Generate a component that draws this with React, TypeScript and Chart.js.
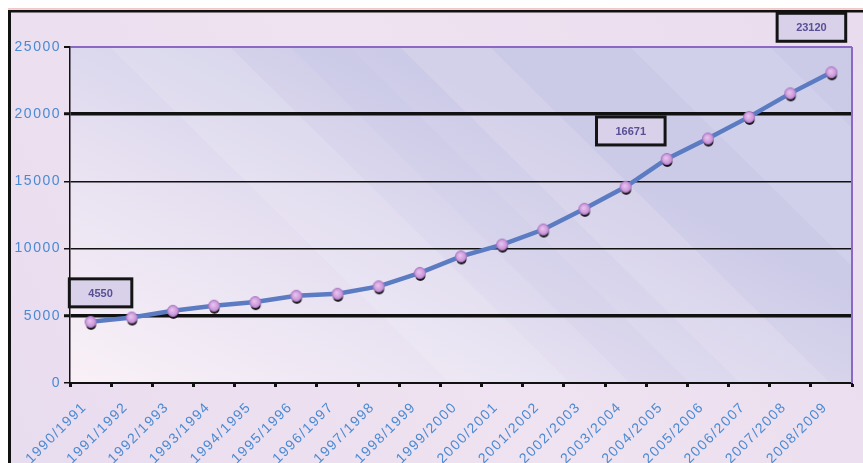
import React, { useEffect, useRef } from 'react';
import { Chart, registerables } from 'chart.js';

Chart.register(...registerables);

// Academic years shown along the bottom axis
const seasons = [
  '1990/1991', '1991/1992', '1992/1993', '1993/1994', '1994/1995',
  '1995/1996', '1996/1997', '1997/1998', '1998/1999', '1999/2000',
  '2000/2001', '2001/2002', '2002/2003', '2003/2004', '2004/2005',
  '2005/2006', '2006/2007', '2007/2008', '2008/2009',
];

// Yearly totals
const students = [
  4550, 4870, 5370, 5750, 6020, 6490, 6640, 7190, 8190, 9420,
  10300, 11420, 12960, 14600, 16671, 18190, 19800, 21550, 23120,
];

// Value axis
const yMin = 0;
const yMax = 25000;
const yStep = 5000;

// Years whose value gets a boxed callout
const calloutSeasons = ['1990/1991', '2004/2005', '2008/2009'];

const FONT = '"Liberation Sans", Arial, sans-serif';

// Callout placement relative to its point (dx, dy in px)
const calloutShift: Record<string, [number, number]> = {
  '1990/1991': [10, -29],
  '2004/2005': [-36, -28],
  '2008/2009': [-20, -45],
};

function makeMarker(): HTMLCanvasElement {
  const c = document.createElement('canvas');
  c.width = 22;
  c.height = 22;
  const g = c.getContext('2d')!;
  // dark drop shadow
  g.fillStyle = '#141414';
  g.beginPath();
  g.arc(11.5, 14, 5, 0, Math.PI * 2);
  g.fill();
  // violet bead
  const rg = g.createRadialGradient(10, 10, 0.5, 11, 11, 6);
  rg.addColorStop(0, '#e8c2ee');
  rg.addColorStop(1, '#bf88d2');
  g.fillStyle = rg;
  g.beginPath();
  g.arc(11, 11, 5.5, 0, Math.PI * 2);
  g.fill();
  g.strokeStyle = '#a877c2';
  g.lineWidth = 1;
  g.stroke();
  return c;
}

const backdropPlugin = {
  id: 'backdrop',
  beforeDraw(chart: any) {
    const { ctx, width, height, chartArea: a } = chart;
    ctx.save();
    // outer panel
    const og = ctx.createLinearGradient(0, height, width, 0);
    og.addColorStop(0, '#e8dcef');
    og.addColorStop(0.5, '#efe3f1');
    og.addColorStop(1, '#e9dcee');
    ctx.fillStyle = og;
    ctx.fillRect(0, 0, width, height);
    ctx.fillStyle = '#f0c8c8';
    ctx.fillRect(0, 0, width, 1.5);
    // panel frame (left and top)
    ctx.fillStyle = '#111';
    ctx.fillRect(0, 2, width, 2.5);
    ctx.fillRect(0, 2, 3, height);

    // plot area wash: light bottom-left to lavender top-right
    const pg = ctx.createLinearGradient(a.left, a.bottom, a.left + 200, a.top - 60);
    pg.addColorStop(0, '#faf1f7');
    pg.addColorStop(0.5, '#e6e0f1');
    pg.addColorStop(1, '#cbcae7');
    ctx.fillStyle = pg;
    ctx.fillRect(a.left, a.top, a.right - a.left, a.bottom - a.top);

    // soft diagonal bands
    ctx.beginPath();
    ctx.rect(a.left, a.top, a.right - a.left, a.bottom - a.top);
    ctx.clip();
    const bands = [
      { x: 40, w: 120, c: 'rgba(255,255,255,0.14)' },
      { x: 330, w: 90, c: 'rgba(255,240,250,0.16)' },
      { x: 560, w: 140, c: 'rgba(255,255,255,0.12)' },
      { x: 220, w: 60, c: 'rgba(190,190,230,0.10)' },
    ];
    for (const b of bands) {
      ctx.fillStyle = b.c;
      ctx.beginPath();
      ctx.moveTo(a.left + b.x, a.top);
      ctx.lineTo(a.left + b.x + b.w, a.top);
      ctx.lineTo(a.left + b.x + b.w + 340, a.bottom);
      ctx.lineTo(a.left + b.x + 340, a.bottom);
      ctx.closePath();
      ctx.fill();
    }
    ctx.restore();
    // widely spaced axis lettering
    ctx.letterSpacing = '1.5px';
  },
  beforeDatasetsDraw(chart: any) {
    const { ctx, chartArea: a } = chart;
    ctx.letterSpacing = '0px';
    ctx.save();
    ctx.strokeStyle = '#8a68c4';
    ctx.lineWidth = 2;
    ctx.beginPath();
    ctx.moveTo(a.right, a.top);
    ctx.lineTo(a.right, a.bottom);
    ctx.stroke();
    ctx.restore();
  },
};

const calloutPlugin = {
  id: 'callouts',
  afterDatasetsDraw(chart: any) {
    const { ctx } = chart;
    const meta = chart.getDatasetMeta(0);
    ctx.save();
    ctx.letterSpacing = '0px';
    ctx.font = `bold 11px ${FONT}`;
    ctx.textAlign = 'center';
    ctx.textBaseline = 'middle';
    for (const season of calloutSeasons) {
      const i = seasons.indexOf(season);
      const pt = meta.data[i];
      if (!pt) continue;
      const [dx, dy] = calloutShift[season];
      const cx = pt.x + dx;
      const cy = pt.y + dy;
      const text = String(students[i]);
      const w = ctx.measureText(text).width + 38;
      const h = 28;
      ctx.fillStyle = '#d9d1ea';
      ctx.fillRect(cx - w / 2, cy - h / 2, w, h);
      ctx.strokeStyle = '#141414';
      ctx.lineWidth = 3;
      ctx.strokeRect(cx - w / 2, cy - h / 2, w, h);
      ctx.fillStyle = '#5a4e94';
      ctx.fillText(text, cx, cy + 1);
    }
    ctx.restore();
  },
};

export default function App() {
  const ref = useRef<HTMLCanvasElement>(null);

  useEffect(() => {
    document.body.style.margin = '0';
    document.body.style.overflow = 'hidden';
    const canvas = ref.current!;
    const marker = makeMarker();
    const yWidth = (v: number) =>
      v === 5000 || v === 20000 ? 3.5 : v === yMax ? 2 : 1.5;

    const chart = new Chart(canvas, {
      type: 'line',
      data: {
        labels: seasons,
        datasets: [
          {
            data: students,
            borderColor: '#5b7bc2',
            borderWidth: 4.5,
            tension: 0,
            pointStyle: marker as any,
            pointRadius: 6,
            pointHoverRadius: 6,
          },
        ],
      },
      options: {
        responsive: false,
        animation: false,
        devicePixelRatio: 1,
        layout: { padding: { top: 39, right: 11, left: 0, bottom: 0 } },
        plugins: {
          legend: { display: false },
          tooltip: { enabled: false },
        },
        scales: {
          x: {
            type: 'category',
            offset: true,
            afterFit(scale: any) {
              scale.height = 80;
            },
            border: { display: true, color: '#111', width: 2 },
            grid: {
              offset: true,
              drawOnChartArea: false,
              drawTicks: true,
              tickLength: 4,
              tickWidth: 3,
              tickColor: '#111',
              color: '#111',
            },
            ticks: {
              autoSkip: false,
              minRotation: 45,
              maxRotation: 45,
              padding: 12,
              labelOffset: -6,
              color: '#4a8ad2',
              font: { family: FONT, size: 14 },
            },
          },
          y: {
            min: yMin,
            max: yMax,
            afterFit(scale: any) {
              scale.width = 62;
            },
            border: { display: true, color: '#111', width: 1.5 },
            grid: {
              color: (c: any) => (c.tick && c.tick.value === yMax ? '#8a68c4' : '#111'),
              lineWidth: (c: any) => (c.tick ? yWidth(c.tick.value) : 1),
              drawTicks: true,
              tickLength: 6,
              tickColor: '#111',
              tickWidth: (c: any) => (c.tick ? Math.min(yWidth(c.tick.value), 3) : 1),
            },
            ticks: {
              stepSize: yStep,
              padding: 3,
              color: '#4a8ad2',
              font: { family: FONT, size: 14 },
              callback: (v: any) => String(v),
            },
          },
        },
      },
      plugins: [backdropPlugin, calloutPlugin],
    });
    return () => chart.destroy();
  }, []);

  return (
    <div style={{ width: 863, height: 463, background: '#fff', position: 'relative', overflow: 'hidden' }}>
      <div style={{ position: 'absolute', left: 8, top: 8, width: 855, height: 455 }}>
        <canvas ref={ref} width={855} height={455} style={{ display: 'block' }} />
      </div>
    </div>
  );
}
